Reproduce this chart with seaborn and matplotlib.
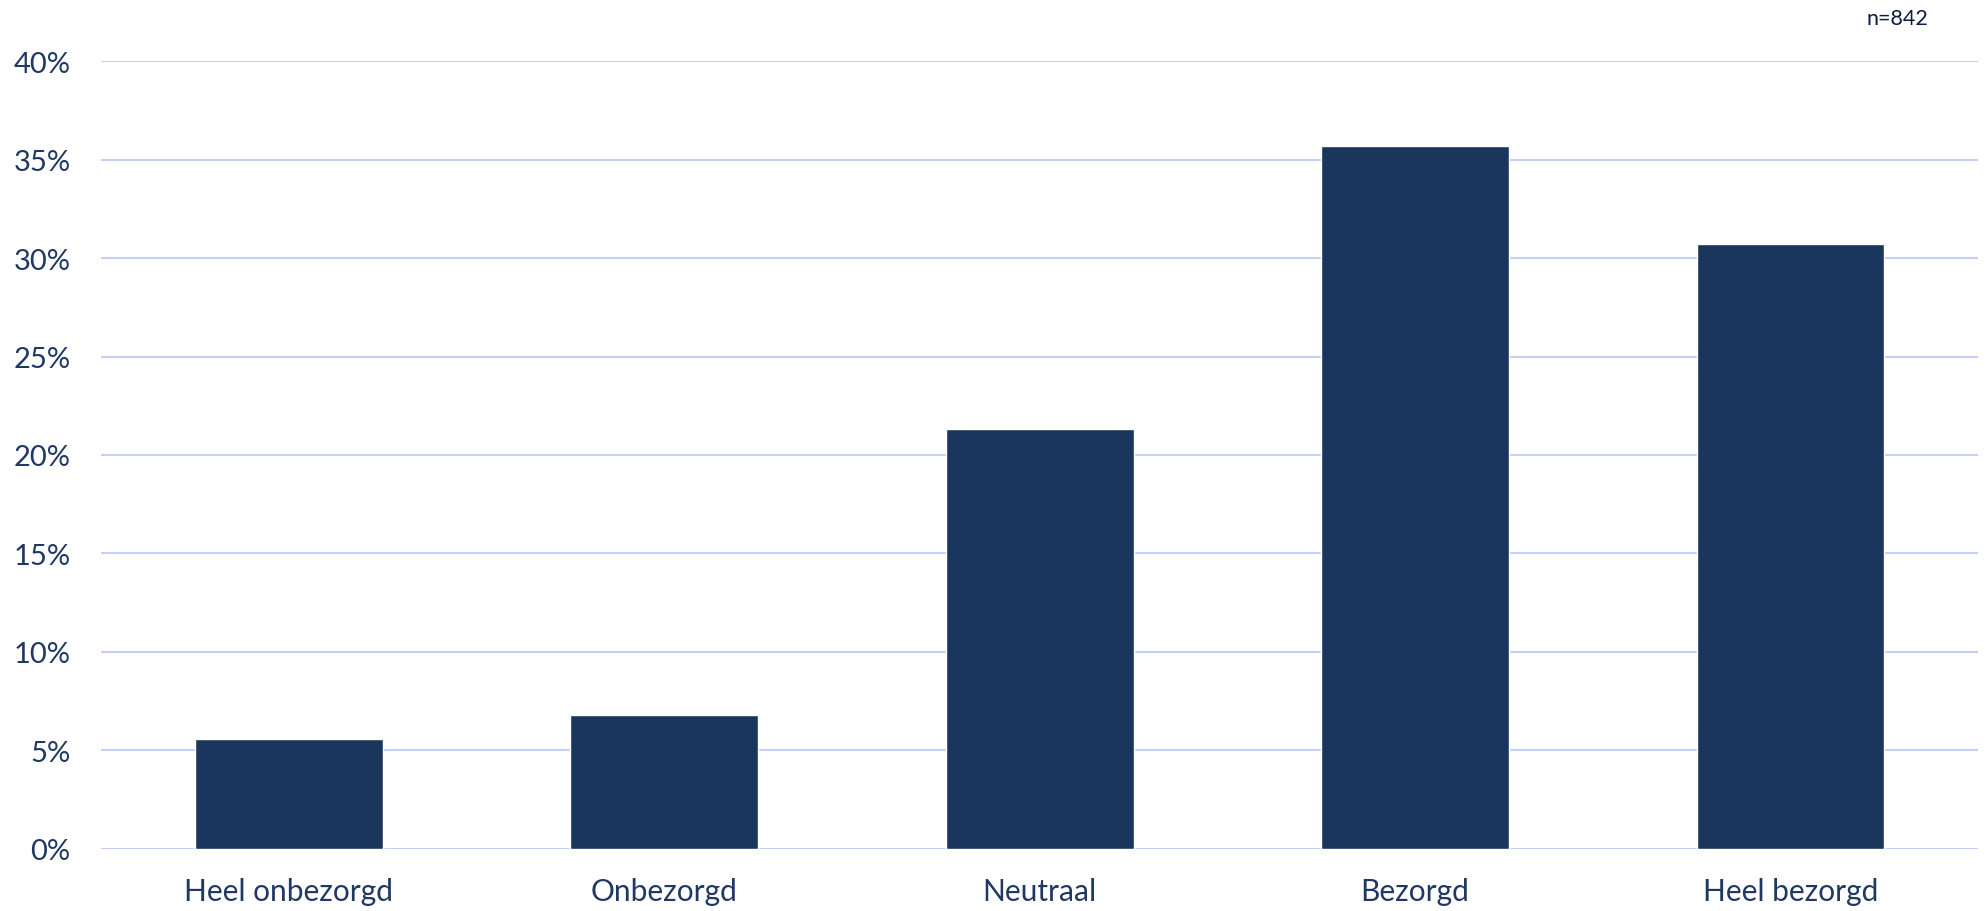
import pandas as pd
import seaborn as sns
import matplotlib.pyplot as plt
from matplotlib.ticker import PercentFormatter

# data (percent of respondents)
categories = ["Heel onbezorgd", "Onbezorgd", "Neutraal", "Bezorgd", "Heel bezorgd"]
shares = [5.6, 6.8, 21.3, 35.7, 30.7]
yticks = [0, 5, 10, 15, 20, 25, 30, 35, 40]
n_label = "n=842"

df = pd.DataFrame({"category": categories, "share": shares})

sns.set_style("white")
plt.rcParams["font.family"] = ["Lato", "DejaVu Sans"]

text_color = "#1F3864"
bar_color = "#1B365D"
grid_color = "#C6CFF5"

fig = plt.figure(figsize=(19.86, 9.12), dpi=100)
ax = fig.add_axes([0.051, 0.068, 0.945, 0.864])

ax.yaxis.grid(True, color=grid_color, linewidth=1.5)
ax.set_axisbelow(True)

sns.barplot(data=df, x="category", y="share", color=bar_color, saturation=1,
            width=0.5, ax=ax)

ax.set_ylim(0, 40)
ax.set_xlim(-0.5, len(categories) - 0.5)
ax.set_yticks(yticks)
ax.yaxis.set_major_formatter(PercentFormatter(decimals=0))
ax.set_xlabel("")
ax.set_ylabel("")
ax.tick_params(axis="y", length=0, labelsize=21, labelcolor=text_color, pad=22)
ax.tick_params(axis="x", length=0, labelsize=21.5, labelcolor=text_color, pad=20)
sns.despine(ax=ax, left=True, bottom=True)

fig.text(0.971, 0.979, n_label, ha="right", va="center", fontsize=15.5,
         color="#0D1B3E")

fig.savefig("out.png", dpi=100, facecolor="white")
